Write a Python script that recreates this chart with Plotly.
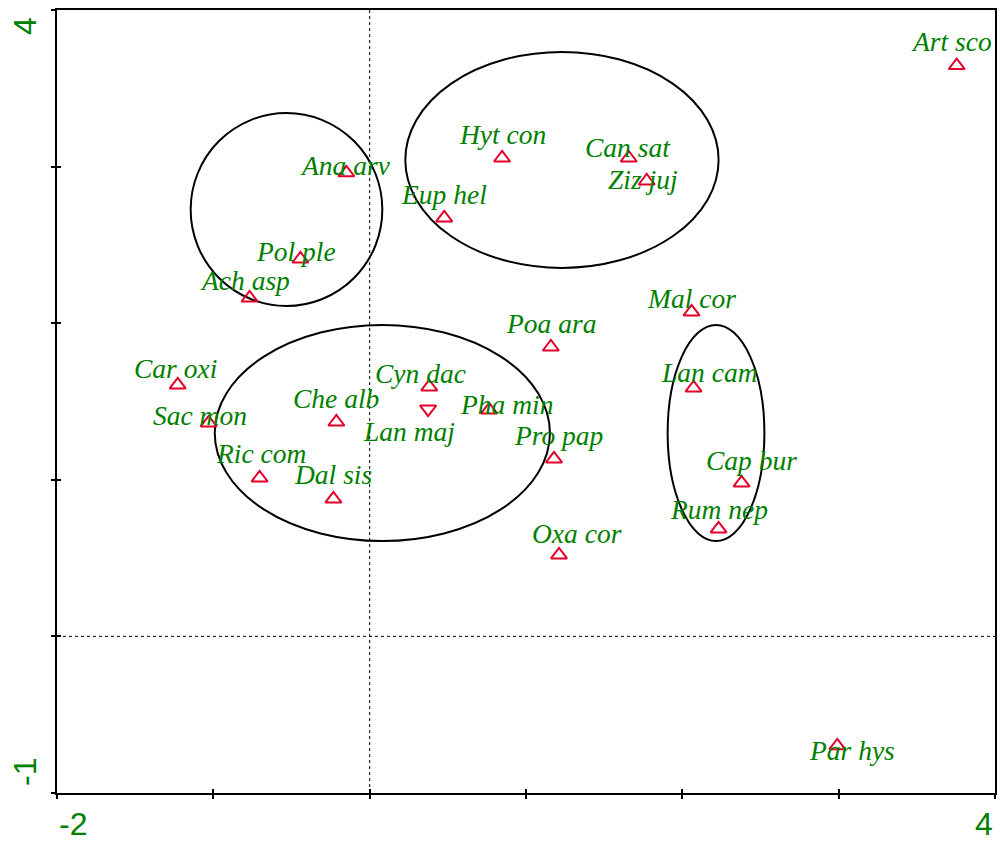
import plotly.graph_objects as go

# ---- data -------------------------------------------------------------
species = ["Art sco", "Hyt con", "Can sat", "Ziz juj", "Ana arv", "Eup hel",
           "Pol ple", "Ach asp", "Mal cor", "Poa ara", "Car oxi", "Lan cam",
           "Cyn dac", "Lan maj", "Pha min", "Sac mon", "Che alb", "Pro pap",
           "Ric com", "Cap bur", "Dal sis", "Rum nep", "Oxa cor", "Par hys"]
axis1 = [3.755, 0.847, 1.657, 1.772, -0.149, 0.477,
         -0.443, -0.768, 2.059, 1.159, -1.228, 2.072,
         0.381, 0.374, 0.764, -1.030, -0.213, 1.179,
         -0.704, 2.379, -0.232, 2.232, 1.211, 2.991]
axis2 = [3.645, 3.055, 3.055, 2.908, 2.960, 2.672,
         2.410, 2.161, 2.072, 1.848, 1.606, 1.587,
         1.593, 1.452, 1.446, 1.363, 1.369, 1.133,
         1.012, 0.980, 0.878, 0.686, 0.520, -0.699]
down_species = ["Lan maj"]

# label offsets from the point, in pixels (right, down)
label_dx = [-5, 0, -1, -4, -1, 0, -4, -5, 0, 0, -2, 16,
            -9, -19, 17, -9, 0, 5, 1, 10, 0, 0, 18, 15]
label_dy = [-24, -23, -10, -2, -7, -23, -7, -17, -13, -24, -16, -15,
            -13, 22, -5, -7, -24, -23, -24, -22, -24, -19, -21, 5]

# ellipses (group envelopes) in data units
ell_x0 = [-1.145, 0.228, -0.991, 1.906]
ell_x1 = [0.081, 2.232, 1.153, 2.525]
ell_y0 = [2.110, 2.353, 0.609, 0.609]
ell_y1 = [3.342, 3.732, 1.989, 1.989]

x_range = [-2, 4]
y_range = [-1, 4]
x_ticks = [-2, -1, 0, 1, 2, 3, 4]
y_ticks = [-1, 0, 1, 2, 3, 4]
x_tick_labels = ["-2", "4"]
y_tick_labels = ["-1", "4"]

GREEN = "#008000"
RED = "#e4002b"

# ---- figure -----------------------------------------------------------
symbols = ["triangle-down-open" if s in down_species else "triangle-up-open"
           for s in species]

fig = go.Figure()
fig.add_trace(go.Scatter(
    x=axis1, y=axis2, mode="markers",
    marker=dict(symbol=symbols, size=14, color=RED,
                line=dict(color=RED, width=2)),
    hoverinfo="text", text=species, showlegend=False))

# invisible trace for overlay axes (inner half of crossing ticks)
fig.add_trace(go.Scatter(x=[x_range[0]], y=[y_range[0]], xaxis="x2", yaxis="y2",
                         mode="markers", marker=dict(opacity=0),
                         showlegend=False, hoverinfo="skip"))

shapes = []
for a, b, c, d in zip(ell_x0, ell_x1, ell_y0, ell_y1):
    shapes.append(dict(type="circle", xref="x", yref="y", x0=a, x1=b, y0=c, y1=d,
                       line=dict(color="black", width=2), layer="below"))
shapes.append(dict(type="line", xref="x", yref="paper", x0=0, x1=0, y0=0, y1=1,
                   line=dict(color="black", width=1, dash="dot"), layer="below"))
shapes.append(dict(type="line", xref="paper", yref="y", x0=0, x1=1, y0=0, y1=0,
                   line=dict(color="black", width=1, dash="dot"), layer="below"))

annotations = []
for s, x, y, dx, dy in zip(species, axis1, axis2, label_dx, label_dy):
    annotations.append(dict(x=x, y=y, xref="x", yref="y", text=s, showarrow=False,
                            xanchor="center", yanchor="middle",
                            xshift=dx, yshift=-dy,
                            font=dict(family="Liberation Serif", size=27.5,
                                      color=GREEN, style="italic")))

tick_font = dict(family="Liberation Sans", size=32, color=GREEN)
# x-axis end labels
annotations.append(dict(x=x_range[0], y=0, xref="x", yref="paper",
                        text=x_tick_labels[0], showarrow=False,
                        xanchor="left", yanchor="top", yshift=-11, font=tick_font))
annotations.append(dict(x=x_range[1], y=0, xref="x", yref="paper",
                        text=x_tick_labels[1], showarrow=False,
                        xanchor="right", yanchor="top", yshift=-11, font=tick_font))
# y-axis end labels (rotated)
annotations.append(dict(x=0, y=y_range[0], xref="paper", yref="y",
                        text=y_tick_labels[0], showarrow=False, textangle=-90,
                        xanchor="center", yanchor="bottom", xshift=-32, yshift=5,
                        font=tick_font))
annotations.append(dict(x=0, y=y_range[1], xref="paper", yref="y",
                        text=y_tick_labels[1], showarrow=False, textangle=-90,
                        xanchor="center", yanchor="top", xshift=-32, yshift=-5,
                        font=tick_font))

axis_common = dict(showgrid=False, zeroline=False, showticklabels=False)
fig.update_layout(
    width=1000, height=842,
    margin=dict(l=57, r=3, t=10, b=49),
    paper_bgcolor="white", plot_bgcolor="white",
    xaxis=dict(range=x_range, tickmode="array", tickvals=x_ticks,
               ticks="outside", ticklen=4, tickwidth=2, tickcolor="black",
               showline=True, linecolor="black", linewidth=2, mirror=True,
               **axis_common),
    yaxis=dict(range=y_range, tickmode="array", tickvals=y_ticks,
               ticks="outside", ticklen=4, tickwidth=2, tickcolor="black",
               showline=True, linecolor="black", linewidth=2, mirror=True,
               **axis_common),
    xaxis2=dict(range=x_range, overlaying="x", side="bottom", anchor="y2",
                tickmode="array", tickvals=x_ticks, ticks="inside", ticklen=4,
                tickwidth=2, tickcolor="black", showline=False, **axis_common),
    yaxis2=dict(range=y_range, overlaying="y", side="left", anchor="x2",
                tickmode="array", tickvals=y_ticks, ticks="inside", ticklen=4,
                tickwidth=2, tickcolor="black", showline=False, **axis_common),
    shapes=shapes,
    annotations=annotations,
    showlegend=False,
)

fig.write_html(
    "out.html",
    config={"displayModeBar": False},
    post_script="document.body.style.margin='0';document.body.style.overflow='hidden';",
)
